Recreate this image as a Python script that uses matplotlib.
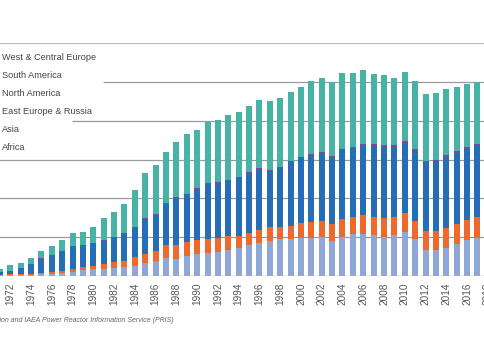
import matplotlib
matplotlib.use("Agg")
import matplotlib.pyplot as plt
import numpy as np

plt.rcParams['font.family'] = ['Liberation Sans', 'DejaVu Sans']

# Nuclear electricity production by region, TWh
years = list(range(1971, 2018))

africa = [0]*13 + [4, 5, 9, 7, 11, 11, 8, 9, 9, 7, 10, 11, 12, 13, 14, 14, 13, 11, 12, 13,
                   14, 12, 10, 13, 13, 12, 13, 13, 12, 14, 15, 11, 15, 15]
asia = [8, 10, 12, 16, 22, 26, 35, 58, 72, 88, 96, 105, 110, 129, 158, 182, 221, 208, 249, 271,
        287, 300, 326, 351, 385, 413, 438, 459, 459, 481, 483, 495, 438, 493, 525, 535, 511, 494,
        516, 554, 460, 323, 321, 350, 401, 445, 479]
east_europe = [6, 10, 12, 14, 18, 26, 27, 37, 40, 46, 59, 73, 88, 110, 125, 127, 172, 187, 183, 183,
               181, 183, 181, 155, 163, 172, 177, 163, 176, 193, 198, 202, 219, 224, 220, 237, 241,
               245, 237, 241, 240, 249, 241, 254, 258, 262, 263]
north_america = [34, 48, 79, 125, 183, 215, 260, 292, 279, 287, 300, 321, 352, 380, 447, 472, 532,
                 603, 614, 659, 713, 707, 719, 756, 773, 782, 725, 760, 817, 834, 859, 876, 851, 889,
                 889, 898, 911, 915, 902, 906, 902, 882, 902, 915, 915, 919, 928]
south_america = [0, 0, 0, 2, 3, 2, 2, 3, 3, 2, 3, 2, 3, 5, 9, 6, 7, 6, 6, 9, 9, 9, 8, 8, 10, 10, 11,
                 10, 11, 12, 21, 19, 20, 19, 16, 21, 19, 20, 21, 21, 21, 22, 20, 21, 21, 24, 21]
west_europe = [46, 70, 69, 79, 100, 118, 140, 160, 177, 209, 290, 324, 371, 481, 584, 639, 659, 708,
               767, 756, 790, 799, 830, 830, 845, 876, 896, 888, 895, 907, 938, 944, 956, 974, 959,
               954, 913, 908, 868, 895, 882, 858, 861, 852, 834, 810, 795]

series = [
    ("Africa", africa, "#a9a6d2"),
    ("Asia", asia, "#8fa7d6"),
    ("East Europe & Russia", east_europe, "#f0692c"),
    ("North America", north_america, "#256db6"),
    ("South America", south_america, "#7d4b8e"),
    ("West & Central Europe", west_europe, "#47b3a6"),
]

grid_vals = [500, 1000, 1500, 2000, 2500, 3000]
tick_years = list(range(1972, 2019, 2))

fig = plt.figure(figsize=(4.85, 3.6), dpi=100)
# the chart is a crop: axes run past the left and right edges
ax = fig.add_axes([-0.0323, 0.2333, 1.0595, 0.6467])
ax.set_xlim(1969.5, 2019.0)
ax.set_ylim(0, 3000)

# gridlines (partly hidden behind the legend)
starts = {2000: 1977.94, 2500: 1980.93}
for v in grid_vals:
    col, lw = ('#bdbdbd', 1.6) if v == 3000 else ('#9a9a9a', 0.9)
    ax.hlines(v, starts.get(v, 1969.5), 2019.0, colors=col, linewidth=lw, zorder=1)
ax.hlines(0, 1969.5, 2019.0, colors='#9a9a9a', linewidth=1.0, zorder=3)

bottom = np.zeros(len(years))
handles = []
for name, vals, col in series:
    b = ax.bar(years, vals, width=0.58, bottom=bottom, color=col, label=name, zorder=2, linewidth=0)
    bottom += np.array(vals)
    handles.append(b)

for s in ax.spines.values():
    s.set_visible(False)
ax.set_yticks([])
ax.set_xticks(tick_years)
ax.set_xticklabels([str(y) for y in tick_years], rotation=90, fontsize=7.2, color='#555555')
ax.tick_params(axis='x', length=0, pad=5)

leg = ax.legend(handles[::-1], [s[0] for s in series][::-1], loc='upper left',
                bbox_to_anchor=(2/485, 1 - 53/360), bbox_transform=fig.transFigure,
                frameon=False, handlelength=0, handletextpad=0, borderpad=0, borderaxespad=0,
                labelspacing=0.99, fontsize=6.55)
for t in leg.get_texts():
    t.set_color('#444444')
for h in leg.legend_handles:
    h.set_visible(False)

fig.text(174/485, 1 - 320/360,
         "Source: World Nuclear Association and IAEA Power Reactor Information Service (PRIS)",
         ha='right', va='center', style='italic', fontsize=5.0, color='#666666')

fig.savefig("out.png", dpi=100)
